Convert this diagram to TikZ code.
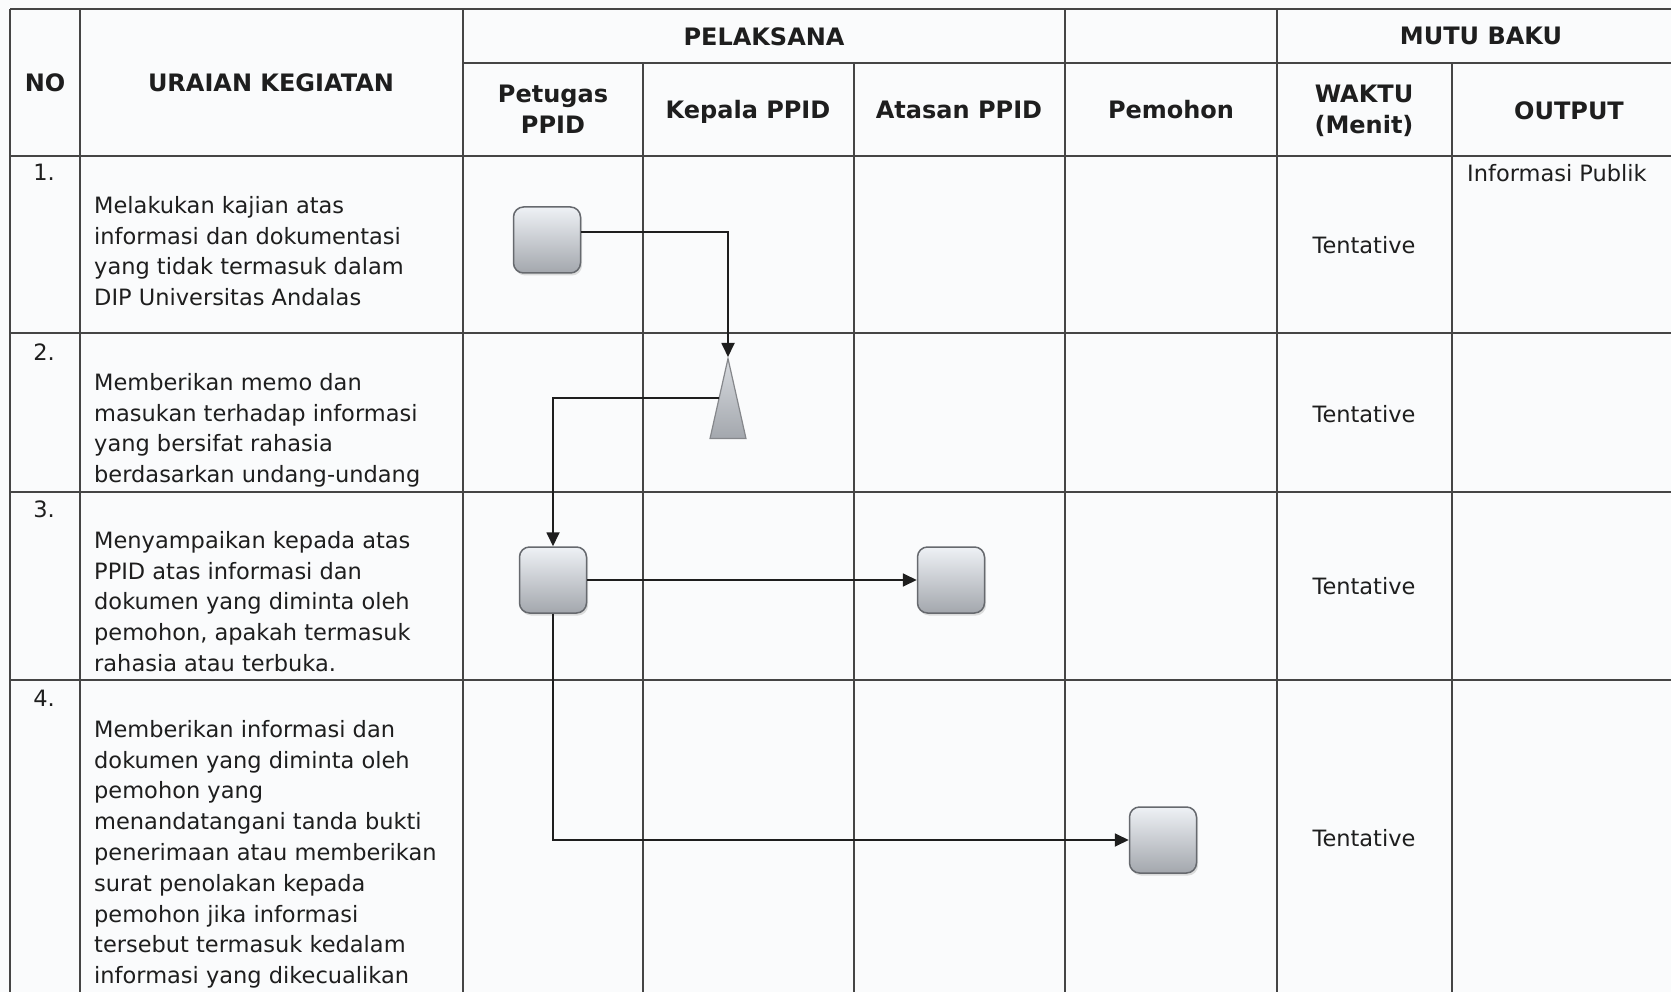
\documentclass[tikz,border=0pt]{standalone}
\usepackage{fontspec}
\setmainfont{DejaVu Sans}
\usetikzlibrary{arrows.meta,shapes.geometric,shadows}

\definecolor{paper}{HTML}{FAFBFC}
\definecolor{rulegray}{HTML}{454545}
\definecolor{ink}{HTML}{1E1E1E}
\definecolor{boxtop}{HTML}{EEF1F5}
\definecolor{boxbot}{HTML}{A3A7AD}
\definecolor{boxline}{HTML}{66696E}

\tikzset{
 tableline/.style={draw=rulegray,line width=1.9pt},
 head/.style={font=\fontsize{24}{31}\selectfont\bfseries,text=ink,align=center,inner sep=0pt},
 body/.style={font=\fontsize{22.5}{30.8}\selectfont,text=ink,align=left,inner sep=0pt},
 task/.style={draw=boxline,line width=1.5pt,rounded corners=10pt,minimum width=67pt,minimum height=66pt,top color=boxtop,bottom color=boxbot,drop shadow={shadow xshift=1.5pt,shadow yshift=-2.5pt,opacity=.25}},
 memo/.style={isosceles triangle,isosceles triangle stretches,shape border rotate=90,draw=boxline!80,line width=1.2pt,minimum width=36pt,minimum height=80pt,top color=boxtop!70!boxbot,bottom color=boxbot,inner sep=0pt},
 flow/.style={->,draw=ink,line width=1.8pt}
}

\begin{document}
\begin{tikzpicture}[x=1pt,y=-1pt,>={Triangle[length=14pt,width=13pt]}]
\fill[paper] (0,0) rectangle (1671,992);
\useasboundingbox (0,0) rectangle (1671,992);
\foreach \y in {9,156,333,492,680} \draw[tableline] (10,\y) -- (1671,\y);
\draw[tableline] (463,63) -- (1671,63);
\foreach \x in {10,80,463,1065,1277} \draw[tableline] (\x,9) -- (\x,992);
\foreach \x in {643,854,1452} \draw[tableline] (\x,63) -- (\x,992);

\node[head,anchor=base] (hno) at (45,92) {NO};
\node[head,anchor=base] (hurai) at (271,92) {URAIAN KEGIATAN};
\node[head,anchor=base] (hpel) at (764,46) {PELAKSANA};
\node[head,anchor=base] (hmutu) at (1481,45) {MUTU BAKU};
\node[head,anchor=north] (hpet) at (553,85) {Petugas\\PPID};
\node[head,anchor=base] (hkep) at (748,119) {Kepala PPID};
\node[head,anchor=base] (hata) at (959,119) {Atasan PPID};
\node[head,anchor=base] (hpem) at (1171,119) {Pemohon};
\node[head,anchor=north] (hwak) at (1364,85) {WAKTU\\(Menit)};
\node[head,anchor=base] (hout) at (1569,120) {OUTPUT};

\foreach \n/\y in {1/181,2/360,3/517,4/706} \node[body,anchor=base] (n\n) at (44,\y) {\n.};
\node[body,anchor=north west] (d1) at (94,196) {Melakukan kajian atas\\informasi dan dokumentasi\\yang tidak termasuk dalam\\DIP Universitas Andalas};
\node[body,anchor=north west] (d2) at (94,373) {Memberikan memo dan\\masukan terhadap informasi\\yang bersifat rahasia\\berdasarkan undang-undang};
\node[body,anchor=north west] (d3) at (94,531) {Menyampaikan kepada atas\\PPID atas informasi dan\\dokumen yang diminta oleh\\pemohon, apakah termasuk\\rahasia atau terbuka.};
\node[body,anchor=north west] (d4) at (94,720) {Memberikan informasi dan\\dokumen yang diminta oleh\\pemohon yang\\menandatangani tanda bukti\\penerimaan atau memberikan\\surat penolakan kepada\\pemohon jika informasi\\tersebut termasuk kedalam\\informasi yang dikecualikan};

\foreach \r/\y in {1/254,2/422,3/594,4/846} \node[body,anchor=base] (t\r) at (1364,\y) {Tentative};
\node[body,anchor=base west] (out1) at (1467,182) {Informasi Publik};

\node[task] (p1) at (547,240) {};
\node[memo,anchor=apex] (k2) at (728,357) {};
\node[task] (p3) at (553,580) {};
\node[task] (a3) at (951,580) {};
\node[task] (m4) at (1163,840) {};

\draw[flow] ([yshift=8pt]p1.east) -| (k2.apex);
\draw[flow] (k2.left side) -| (p3.north);
\draw[flow] (p3) -- (a3);
\draw[flow] (p3.south) |- (m4.west);
\end{tikzpicture}
\end{document}
